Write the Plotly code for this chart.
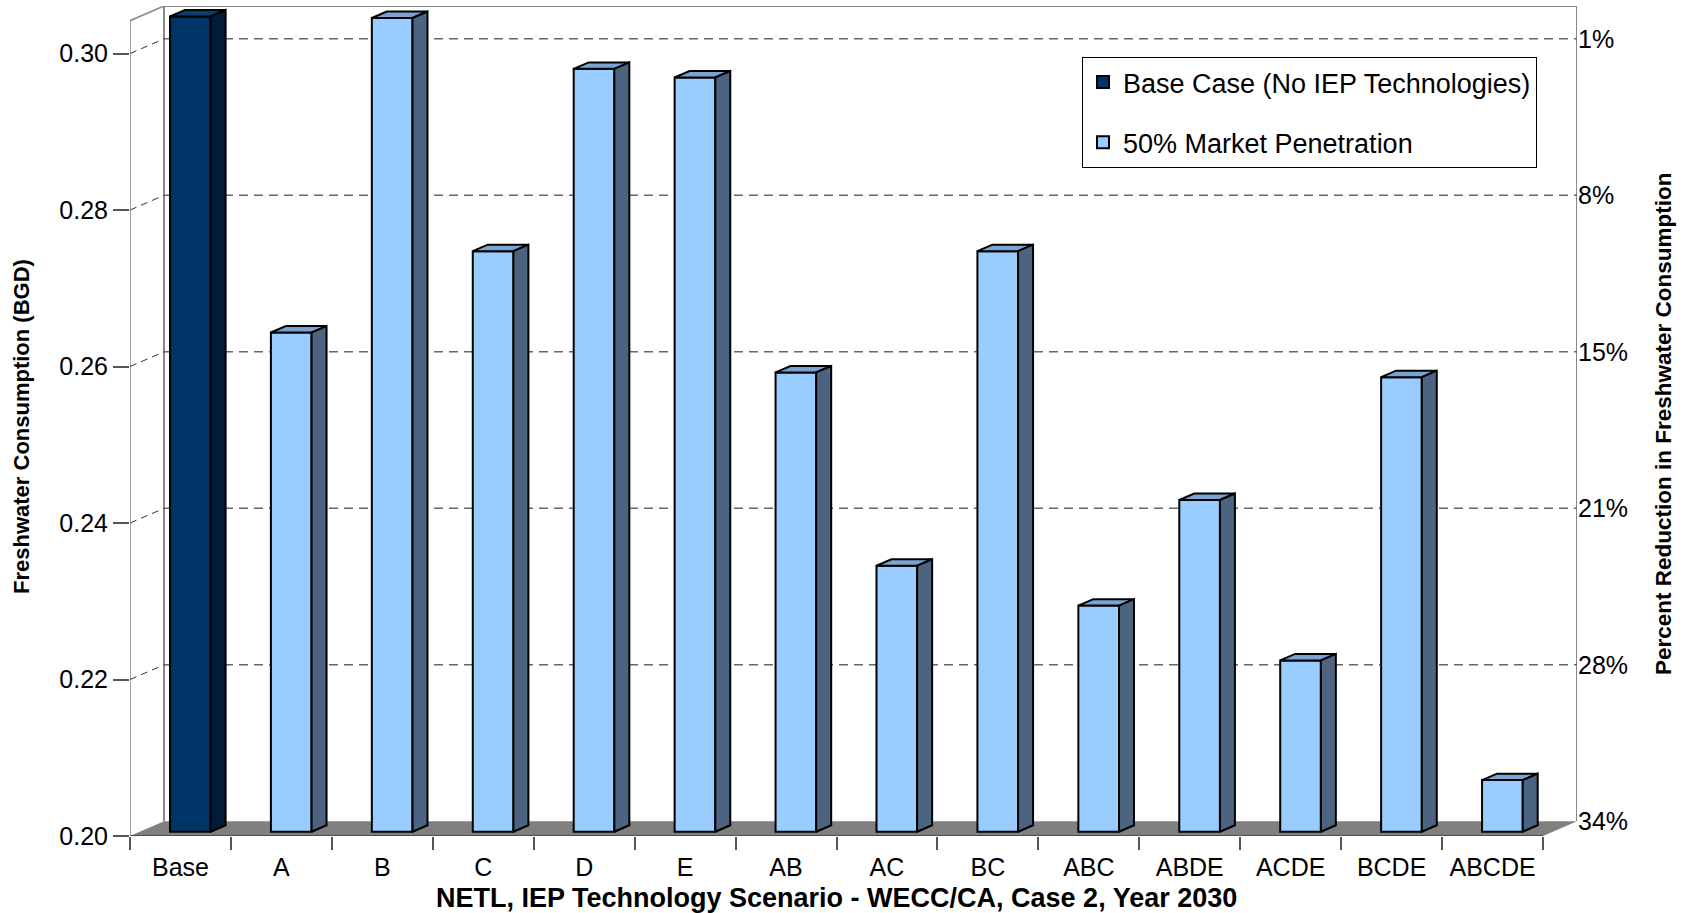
import plotly.graph_objects as go

# ---- data -------------------------------------------------------------
scenarios = ["Base", "A", "B", "C", "D", "E", "AB", "AC", "BC",
             "ABC", "ABDE", "ACDE", "BCDE", "ABCDE"]
consumption_bgd = [0.3042, 0.2638, 0.3040, 0.2742, 0.2975, 0.2964, 0.2587,
                   0.2340, 0.2742, 0.2289, 0.2424, 0.2219, 0.2581, 0.2066]
value_ticks = [0.20, 0.22, 0.24, 0.26, 0.28, 0.30]
series_names = ["Base Case (No IEP Technologies)", "50% Market Penetration"]

x_title = "NETL, IEP Technology Scenario - WECC/CA, Case 2, Year 2030"
y_title = "Freshwater Consumption (BGD)"
y2_title = "Percent Reduction in Freshwater Consumption"

# ---- geometry of the pseudo-3D box -----------------------------------
FLOOR = 0.20
CEIL = consumption_bgd[0]          # value axis tops out at the base case
N = len(scenarios)
DEPTH_X = 0.3368                   # oblique depth, category units
DEPTH_Y = 0.001878                 # oblique depth, value units
BAR_WIDTH = 0.403
BAR_LEFT = (1 - BAR_WIDTH) / 2
FRONT = 0.29                       # depth fraction of the bars' front face
THICK = 0.44                       # depth fraction occupied by a bar
XMAX = N + DEPTH_X
YMAX = CEIL + DEPTH_Y

fx, fy = FRONT * DEPTH_X, FRONT * DEPTH_Y
bdx, bdy = THICK * DEPTH_X, THICK * DEPTH_Y

FONT = "Liberation Sans, Arial, sans-serif"
colors = {
    0: dict(front="#003366", side="#021C37", top="#0E3C6B"),
    1: dict(front="#99CCFF", side="#4D6481", top="#79A3D3"),
}

fig = go.Figure()

# front faces as bars
groups = {0: [0], 1: list(range(1, N))}
for g, idx in groups.items():
    fig.add_trace(go.Bar(
        x=[i + BAR_LEFT + fx + BAR_WIDTH / 2 for i in idx],
        y=[consumption_bgd[i] - FLOOR for i in idx],
        base=FLOOR + fy,
        width=BAR_WIDTH,
        name=series_names[g],
        legendgroup=f"g{g}",
        marker=dict(color=colors[g]["front"], line=dict(color="black", width=2)),
        hoverinfo="skip",
    ))

# top and side faces of each bar (drawn on the overlaid right-hand axis,
# which shares the same value range, so they sit above the front faces)
for g, idx in groups.items():
    tx, ty, sx, sy = [], [], [], []
    for i in idx:
        v = consumption_bgd[i]
        x0 = i + BAR_LEFT + fx
        x1 = x0 + BAR_WIDTH
        b = FLOOR + fy
        t = v + fy
        tx += [x0, x1, x1 + bdx, x0 + bdx, x0, None]
        ty += [t, t, t + bdy, t + bdy, t, None]
        sx += [x1, x1 + bdx, x1 + bdx, x1, x1, None]
        sy += [b, b + bdy, t + bdy, t, b, None]
    for xs, ys, c in ((tx, ty, colors[g]["top"]), (sx, sy, colors[g]["side"])):
        fig.add_trace(go.Scatter(
            x=xs, y=ys, yaxis="y2", mode="lines", fill="toself", fillcolor=c,
            line=dict(color="black", width=2), showlegend=False,
            hoverinfo="skip",
        ))

# ---- box: floor, walls, gridlines ------------------------------------
shapes = []
shapes.append(dict(
    type="path", layer="below", xref="x", yref="y",
    path=(f"M 0,{FLOOR} L {N},{FLOOR} L {N + DEPTH_X},{FLOOR + DEPTH_Y} "
          f"L {DEPTH_X},{FLOOR + DEPTH_Y} Z"),
    fillcolor="#808080", line=dict(width=0)))
shapes.append(dict(
    type="path", layer="below", xref="x", yref="y",
    path=(f"M {DEPTH_X},{FLOOR + DEPTH_Y} L {DEPTH_X},{YMAX} "
          f"L {N + DEPTH_X},{YMAX} L {N + DEPTH_X},{FLOOR + DEPTH_Y}"),
    line=dict(color="#888888", width=2)))
shapes.append(dict(
    type="path", layer="below", xref="x", yref="y",
    path=f"M 0,{FLOOR} L 0,{CEIL} L {DEPTH_X},{YMAX}",
    line=dict(color="#888888", width=1.5)))
shapes.append(dict(
    type="line", layer="below", xref="x", yref="y",
    x0=0, y0=FLOOR, x1=N, y1=FLOOR,
    line=dict(color="#3C3C3C", width=1.5)))
for v in value_ticks[1:]:
    shapes.append(dict(
        type="line", layer="below", xref="x", yref="y",
        x0=DEPTH_X, y0=v + DEPTH_Y, x1=N + DEPTH_X, y1=v + DEPTH_Y,
        line=dict(color="#666666", width=1.5, dash="9px,6px")))
    shapes.append(dict(
        type="line", layer="below", xref="x", yref="y",
        x0=0, y0=v, x1=DEPTH_X, y1=v + DEPTH_Y,
        line=dict(color="#333333", width=1, dash="7px,5px")))

pct_labels = [f"{round((CEIL - v) / CEIL * 100):d}%" for v in value_ticks]

fig.update_layout(
    width=1687, height=913,
    margin=dict(l=130, r=110, t=6, b=77),
    paper_bgcolor="white", plot_bgcolor="white",
    font=dict(family=FONT, color="black"),
    shapes=shapes,
    showlegend=True,
    legend=dict(
        x=(1082 - 130) / 1447, y=(836 - 57) / 830,
        xanchor="left", yanchor="top",
        bgcolor="white", bordercolor="black", borderwidth=1,
        font=dict(family=FONT, size=27, color="black"),
        tracegroupgap=22, traceorder="grouped",
    ),
    xaxis=dict(
        range=[0, XMAX], showgrid=False, zeroline=False, showline=False,
        tickmode="array",
        tickvals=[i + 0.5 for i in range(N)], ticktext=scenarios,
        ticks="outside", ticklen=9, tickcolor="rgba(0,0,0,0)",
        tickfont=dict(family=FONT, size=25),
        minor=dict(tickmode="array", tickvals=list(range(N + 1)),
                   ticks="outside", ticklen=13, tickwidth=1.5,
                   tickcolor="#555555", showgrid=False),
        fixedrange=True,
    ),
    yaxis=dict(
        range=[FLOOR, YMAX], showgrid=False, zeroline=False, showline=False,
        tickmode="array", tickvals=value_ticks, tickformat=".2f",
        ticks="outside", ticklen=16, tickwidth=1.5, tickcolor="#555555",
        tickfont=dict(family=FONT, size=25),
        fixedrange=True,
    ),
    yaxis2=dict(
        overlaying="y", side="right", anchor="x",
        range=[FLOOR, YMAX], showgrid=False, zeroline=False, showline=False,
        tickmode="array", tickvals=[v + DEPTH_Y for v in value_ticks],
        ticktext=pct_labels, ticks="",
        tickfont=dict(family=FONT, size=25),
        fixedrange=True,
    ),
    annotations=[
        dict(text=f"<b>{x_title}</b>", xref="paper", yref="paper",
             x=(836.5 - 130) / 1447, y=(836 - 898) / 830,
             xanchor="center", yanchor="middle", showarrow=False,
             font=dict(family=FONT, size=27)),
        dict(text=f"<b>{y_title}</b>", xref="paper", yref="paper",
             x=(21 - 130) / 1447, y=(836 - 427) / 830, textangle=-90,
             xanchor="center", yanchor="middle", showarrow=False,
             font=dict(family=FONT, size=22)),
        dict(text=f"<b>{y2_title}</b>", xref="paper", yref="paper",
             x=(1663 - 130) / 1447, y=(836 - 424) / 830, textangle=-90,
             xanchor="center", yanchor="middle", showarrow=False,
             font=dict(family=FONT, size=22.5)),
    ],
)

fig.write_html("out.html")
